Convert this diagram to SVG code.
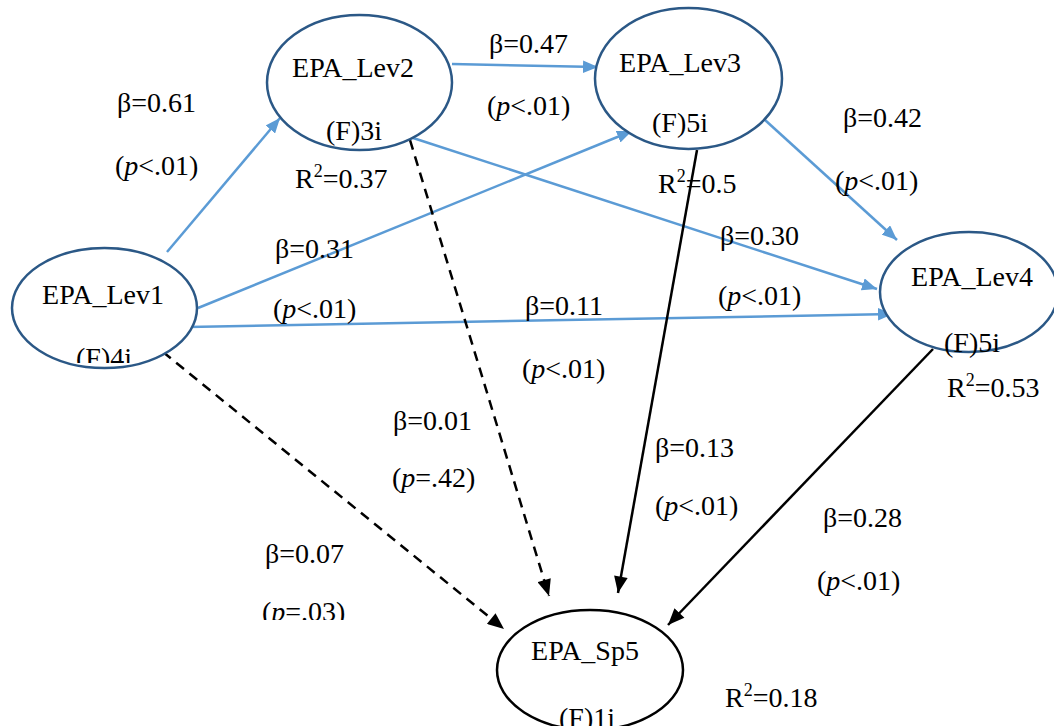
<svg xmlns="http://www.w3.org/2000/svg" width="1054" height="726" viewBox="0 0 1054 726">
  <style>
    .node { fill: #fff; stroke: #2B5886; stroke-width: 2.5; }
    .node-k { fill: #fff; stroke: #000; stroke-width: 2.5; }
    .mid { text-anchor: middle; }
    .blue { fill: none; stroke: #5B9BD5; stroke-width: 2.5; marker-end: url(#ahBlue); }
    .solid { fill: none; stroke: #000; stroke-width: 2.5; marker-end: url(#ahBlack); }
    .dash { fill: none; stroke: #000; stroke-width: 2.5; stroke-dasharray: 10 7; marker-end: url(#ahBlack); }
    .sup { font-size: 18px; }
    .it { font-style: italic; }
  </style>
  <defs>
    <marker id="ahBlue" viewBox="0 0 12 10" refX="12" refY="5" markerWidth="6" markerHeight="5" orient="auto" markerUnits="strokeWidth">
      <path d="M0,0 L12,5 L0,10 Z" fill="#5B9BD5"/>
    </marker>
    <marker id="ahBlack" viewBox="0 0 12 10" refX="12" refY="5" markerWidth="7" markerHeight="5.5" orient="auto" markerUnits="strokeWidth">
      <path d="M0,0 L12,5 L0,10 Z" fill="#000"/>
    </marker>
    <clipPath id="clipLev1"><rect x="0" y="0" width="1054" height="363"/></clipPath>
    <clipPath id="clipP03"><rect x="0" y="0" width="1054" height="620"/></clipPath>
  </defs>

  <rect width="1054" height="726" fill="#fff"/>

  <!-- connectors -->
  <g id="connectors">
    <line class="blue" x1="167" y1="252" x2="280" y2="118"/>
    <line class="blue" x1="452" y1="64" x2="598" y2="67"/>
    <line class="blue" x1="198" y1="308" x2="632" y2="131"/>
    <line class="blue" x1="410" y1="137" x2="877" y2="289"/>
    <line class="blue" x1="188" y1="327" x2="893" y2="314"/>
    <line class="blue" x1="765" y1="120" x2="897" y2="240"/>
    <line class="dash" x1="410" y1="140" x2="549" y2="596"/>
    <line class="dash" x1="163" y1="352" x2="504" y2="629"/>
    <line class="solid" x1="697" y1="150" x2="618" y2="593"/>
    <line class="solid" x1="933" y1="349" x2="668" y2="625"/>
  </g>

  <g font-family="Liberation Serif, DejaVu Serif, serif" font-size="28" fill="#000">
    <!-- nodes -->
    <g id="EPA_Lev1">
      <ellipse class="node" cx="104.5" cy="308" rx="92.5" ry="60"/>
      <text class="mid" x="103" y="304">EPA_Lev1</text>
      <text class="mid" x="104" y="367" clip-path="url(#clipLev1)">(F)4i</text>
    </g>
    <g id="EPA_Lev2">
      <ellipse class="node" cx="359.5" cy="82.5" rx="92.5" ry="67.5"/>
      <text class="mid" x="353" y="77">EPA_Lev2</text>
      <text class="mid" x="354" y="140">(F)3i</text>
    </g>
    <g id="EPA_Lev3">
      <ellipse class="node" cx="688.5" cy="78.5" rx="93.5" ry="70.5"/>
      <text class="mid" x="680" y="72">EPA_Lev3</text>
      <text class="mid" x="680" y="132">(F)5i</text>
    </g>
    <g id="EPA_Lev4">
      <ellipse class="node" cx="969" cy="292" rx="89" ry="60"/>
      <text class="mid" x="972" y="286">EPA_Lev4</text>
      <text class="mid" x="972" y="352">(F)5i</text>
    </g>
    <g id="EPA_Sp5">
      <ellipse class="node-k" cx="590" cy="670" rx="93" ry="60"/>
      <text class="mid" x="585" y="660">EPA_Sp5</text>
      <text class="mid" x="587" y="727">(F)1i</text>
    </g>

    <!-- R-squared values -->
    <g id="r2">
      <text x="295" y="188">R<tspan class="sup" dy="-11">2</tspan><tspan dy="11">=0.37</tspan></text>
      <text x="658" y="193">R<tspan class="sup" dy="-11">2</tspan><tspan dy="11">=0.5</tspan></text>
      <text x="947" y="397">R<tspan class="sup" dy="-11">2</tspan><tspan dy="11">=0.53</tspan></text>
      <text x="725" y="707">R<tspan class="sup" dy="-11">2</tspan><tspan dy="11">=0.18</tspan></text>
    </g>

    <!-- path coefficients -->
    <g id="coefficients">
      <text x="117" y="112">β=0.61</text>
      <text x="115" y="175">(<tspan class="it">p</tspan>&lt;.01)</text>
      <text x="489" y="53">β=0.47</text>
      <text x="487" y="115">(<tspan class="it">p</tspan>&lt;.01)</text>
      <text x="843" y="127">β=0.42</text>
      <text x="835" y="190">(<tspan class="it">p</tspan>&lt;.01)</text>
      <text x="275" y="258">β=0.31</text>
      <text x="273" y="318">(<tspan class="it">p</tspan>&lt;.01)</text>
      <text x="720" y="245">β=0.30</text>
      <text x="718" y="305">(<tspan class="it">p</tspan>&lt;.01)</text>
      <text x="525" y="315">β=0.11</text>
      <text x="522" y="378">(<tspan class="it">p</tspan>&lt;.01)</text>
      <text x="393" y="430">β=0.01</text>
      <text x="392" y="487">(<tspan class="it">p</tspan>=.42)</text>
      <text x="655" y="457">β=0.13</text>
      <text x="655" y="515">(<tspan class="it">p</tspan>&lt;.01)</text>
      <text x="823" y="527">β=0.28</text>
      <text x="817" y="590">(<tspan class="it">p</tspan>&lt;.01)</text>
      <text x="265" y="563">β=0.07</text>
      <text x="262" y="621" clip-path="url(#clipP03)">(<tspan class="it">p</tspan>=.03)</text>
    </g>
  </g>
</svg>
